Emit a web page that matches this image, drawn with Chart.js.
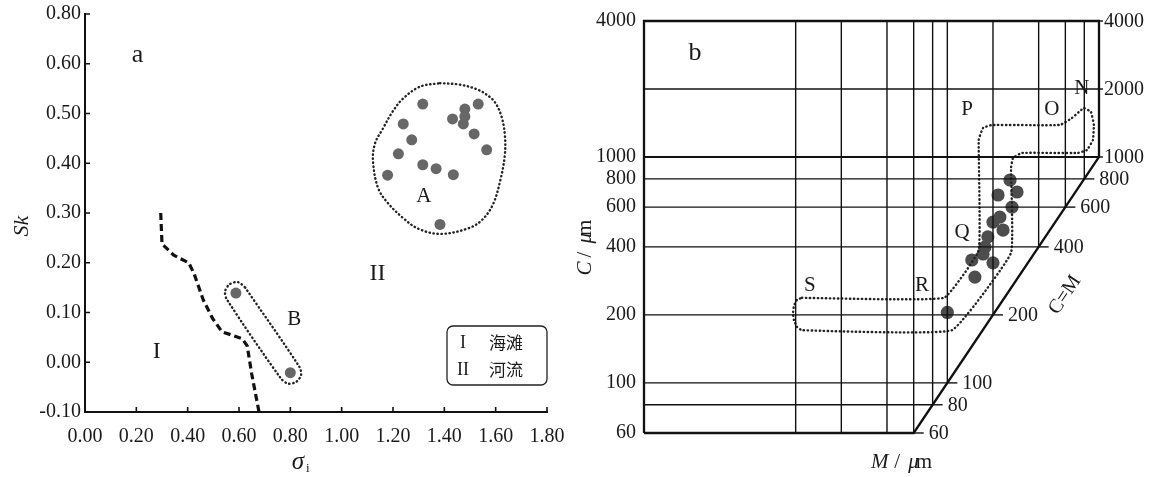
<!DOCTYPE html>
<html><head><meta charset="utf-8">
<script src="https://cdn.jsdelivr.net/npm/chart.js"></script>
<style>
html,body{margin:0;padding:0;background:#fff;}
#wrap{position:relative;width:1150px;height:477px;overflow:hidden;background:#fff;}
canvas{position:absolute;top:0;}
#ca{left:0;} #cb{left:575px;}
</style></head><body>
<div id="wrap"><canvas id="ca" width="575" height="477"></canvas><canvas id="cb" width="575" height="477"></canvas></div>
<script>
// ================= Panel a: sigma_i vs Sk =================
const aXTicks = [0, 0.2, 0.4, 0.6, 0.8, 1.0, 1.2, 1.4, 1.6, 1.8];
const aXTickLabels = ['0.00','0.20','0.40','0.60','0.80','1.00','1.20','1.40','1.60','1.80'];
const aYTicks = [-0.1, 0, 0.1, 0.2, 0.3, 0.4, 0.5, 0.6, 0.7];
const aYTickLabels = ['-0.10','0.00','0.10','0.20','0.30','0.40','0.50','0.60','0.80'];

const groupA_sigma = [1.316,1.532,1.480,1.432,1.480,1.474,1.240,1.516,1.273,1.565,1.221,1.316,1.368,1.435,1.179,1.383];
const groupA_sk    = [0.519,0.519,0.509,0.489,0.494,0.479,0.479,0.459,0.447,0.427,0.419,0.397,0.389,0.377,0.376,0.277];
const groupB_sigma = [0.588, 0.800];
const groupB_sk    = [0.139, -0.021];

// dashed boundary between I (beach) and II (river)
const boundarySigma = [0.295,0.300,0.346,0.404,0.425,0.461,0.497,0.534,0.570,0.613,0.632,0.649,0.678];
const boundarySk    = [0.300,0.238,0.215,0.200,0.178,0.125,0.088,0.061,0.055,0.047,0.033,-0.022,-0.100];

// dotted enclosure A
const outlineA_sigma = [1.383,1.460,1.530,1.580,1.604,1.625,1.636,1.636,1.620,1.590,1.545,1.487,1.383,1.300,1.239,1.180,1.142,1.122,1.130,1.161,1.200,1.239,1.305,1.383];
const outlineA_sk    = [0.561,0.558,0.548,0.532,0.517,0.490,0.455,0.418,0.370,0.318,0.285,0.268,0.258,0.268,0.290,0.320,0.350,0.404,0.440,0.470,0.505,0.530,0.554,0.561];
// dotted enclosure B
const outlineB_sigma = [0.623,0.596,0.564,0.546,0.552,0.764,0.792,0.824,0.842,0.835,0.623];
const outlineB_sk    = [0.151,0.161,0.157,0.143,0.127,-0.033,-0.043,-0.039,-0.025,-0.009,0.151];

const aLabelText  = ['a','A','B','I','II'];
const aLabelSigma = [0.205,1.320,0.815,0.280,1.140];
const aLabelSk    = [0.617,0.333,0.085,0.021,0.178];
const legendNumerals = ['I','II'];
const legendNames = ['海滩','河流'];

// ================= Panel b: C-M diagram =================
const bMmin = 1, bMmax = 1000, bCmin = 60, bCmax = 4000;
const bLeftTicks  = [60,100,200,400,600,800,1000,4000];
const bRightTicks = [60,80,100,200,400,600,800,1000,2000,4000];
const bHLines = [80,100,200,400,600,800,1000,2000];
const bVLines = [10,20,40,60,80,100,200,400,600,800];

const samplesM = [259,288,216,267,222,200,233,185,177,172,200,145,152,100];
const samplesC = [791,700,679,600,542,515,475,443,399,372,340,350,294,205];

// dotted enclosure N-O-P-Q-R-S
const outlineNS_M = [11.0,95,161,161,172,197,552,663,795,885,925,912,832,726,310,271,263,263,107,11.0,10.2,9.74,9.6,9.74,10.2,11.0];
const outlineNS_C = [238,238,387,1189,1344,1386,1386,1488,1648,1582,1386,1189,1074,1042,1042,990,894,376,171,171,177,190,202,219,233,238];

const bLabelText = ['b','N','O','P','Q','R','S'];
const bLabelM    = [2.17,771,489,135,125,68,12.4];
const bLabelC    = [2886,2020,1615,1615,461,271,271];
const cmLabel = {text:'C=M', m:596, c:245};

// ================= helpers =================
const SERIF = "'Liberation Serif','Times New Roman',serif";
const CJK = "'Noto Sans CJK SC','Noto Sans',sans-serif";
const INK = '#1a1a1a';
const zip = (xs, ys) => xs.map((x, i) => ({x, y: ys[i]}));
function lineDS(data, extra) {
  return Object.assign({type:'scatter', data, showLine:true, pointRadius:0, borderColor:'#111',
    borderWidth:1.4, fill:false, tension:0, clip:false}, extra || {});
}
const dotted = {borderDash:[0.4,3.6], borderCapStyle:'round', borderWidth:2.4, borderColor:'#222'};
const noPad = s => { s.paddingLeft = 0; s.paddingRight = 0; s.paddingTop = 0; s.paddingBottom = 0; };

function drawRich(ctx, parts, size) {
  let w = 0;
  parts.forEach(p => { ctx.font = (p[1] ? 'italic ' : '') + size + 'px ' + SERIF; w += ctx.measureText(p[0]).width; });
  let x = -w / 2;
  parts.forEach(p => { ctx.font = (p[1] ? 'italic ' : '') + size + 'px ' + SERIF; ctx.fillText(p[0], x, 0); x += ctx.measureText(p[0]).width; });
}

// ================= Chart a =================
const annotA = {
  id: 'annotA',
  afterDraw(chart) {
    const {ctx, chartArea: ca} = chart;
    const xs = chart.scales.x, ys = chart.scales.y;
    ctx.save();
    ctx.strokeStyle = '#111'; ctx.lineWidth = 1.6;
    ctx.beginPath();
    aXTicks.forEach(v => { const p = xs.getPixelForValue(v); ctx.moveTo(p, ca.bottom); ctx.lineTo(p, ca.bottom - 5); });
    aYTicks.forEach(v => { const p = ys.getPixelForValue(v); ctx.moveTo(ca.left, p); ctx.lineTo(ca.left + 5, p); });
    ctx.stroke();

    ctx.fillStyle = INK; ctx.textAlign = 'center'; ctx.textBaseline = 'middle';
    aLabelText.forEach((t, i) => {
      const size = t === 'a' ? 26 : (t.startsWith('I') ? 24 : 21);
      ctx.font = size + 'px ' + SERIF;
      ctx.fillText(t, xs.getPixelForValue(aLabelSigma[i]), ys.getPixelForValue(aLabelSk[i]));
    });

    // legend box (bottom-right of the plot)
    const lw = 100, lh = 59, lx = ca.right - lw, ly = ca.bottom - 86;
    ctx.lineWidth = 1.3; ctx.strokeStyle = '#222';
    ctx.beginPath(); ctx.roundRect(lx, ly, lw, lh, 6); ctx.stroke();
    legendNumerals.forEach((n, i) => {
      const yy = ly + 17 + i * 27;
      ctx.font = '18px ' + SERIF; ctx.textAlign = 'center';
      ctx.fillText(n, lx + 16, yy);
      ctx.font = '17px ' + CJK; ctx.textAlign = 'left';
      ctx.fillText(legendNames[i], lx + 42, yy);
    });

    // axis titles
    ctx.textAlign = 'center';
    ctx.save(); ctx.translate(22, (ca.top + ca.bottom) / 2 + 13); ctx.rotate(-Math.PI / 2);
    ctx.font = 'italic 22px ' + SERIF; ctx.fillText('Sk', 0, 0); ctx.restore();
    const tx = (ca.left + ca.right) / 2 - 16, ty = 462;
    ctx.font = 'italic 25px ' + SERIF; ctx.textAlign = 'right'; ctx.fillText('σ', tx + 4, ty);
    ctx.font = '13px ' + SERIF; ctx.textAlign = 'left'; ctx.fillText('i', tx + 6, ty + 7);
    ctx.restore();
  }
};

new Chart(document.getElementById('ca'), {
  type: 'scatter',
  data: { datasets: [
    lineDS(zip(boundarySigma, boundarySk), {borderDash:[7,4], borderWidth:3.2, borderColor:'#111'}),
    lineDS(zip(outlineA_sigma, outlineA_sk), Object.assign({tension:0.35}, dotted)),
    lineDS(zip(outlineB_sigma, outlineB_sk), Object.assign({tension:0.3}, dotted)),
    {type:'scatter', data: zip(groupA_sigma, groupA_sk), pointRadius:5.5, pointBackgroundColor:'#676767', pointBorderWidth:0, clip:false},
    {type:'scatter', data: zip(groupB_sigma, groupB_sk), pointRadius:5.5, pointBackgroundColor:'#676767', pointBorderWidth:0, clip:false}
  ]},
  options: {
    responsive:false, animation:false, devicePixelRatio:1, events:[],
    layout:{padding:{left:0, right:28, top:14, bottom:0}},
    plugins:{legend:{display:false}, tooltip:{enabled:false}},
    scales:{
      x:{type:'linear', min:0, max:1.8,
        afterBuildTicks: s => { s.ticks = aXTicks.map(v => ({value:v})); },
        afterFit: s => { s.height = 65; noPad(s); },
        grid:{display:false, drawTicks:false},
        border:{display:true, color:'#111', width:2},
        ticks:{autoSkip:false, maxRotation:0, padding:13, color:INK, font:{family:SERIF, size:20},
          callback:(v, i) => aXTickLabels[i]}},
      y:{type:'linear', min:-0.1, max:0.7,
        afterBuildTicks: s => { s.ticks = aYTicks.map(v => ({value:v})); },
        afterFit: s => { s.width = 85; noPad(s); },
        grid:{display:false, drawTicks:false},
        border:{display:true, color:'#111', width:2},
        ticks:{autoSkip:false, padding:4, color:INK, font:{family:SERIF, size:20},
          callback:(v, i) => aYTickLabels[i]}}
    }
  },
  plugins:[annotA]
});

// ================= Chart b =================
const annotB = {
  id: 'annotB',
  afterDraw(chart) {
    const {ctx} = chart;
    const xs = chart.scales.x, ys = chart.scales.y;
    ctx.save();
    ctx.fillStyle = INK; ctx.strokeStyle = '#111'; ctx.lineWidth = 1.4;
    ctx.textBaseline = 'middle';
    bRightTicks.forEach(v => {
      const x0 = xs.getPixelForValue(Math.min(v, bMmax));
      const y0 = ys.getPixelForValue(v);
      const big = v >= bMmax;
      ctx.beginPath(); ctx.moveTo(x0, y0); ctx.lineTo(x0 + (big ? 4 : 10), y0); ctx.stroke();
      ctx.font = '20px ' + SERIF; ctx.textAlign = 'left';
      ctx.fillText(String(v), x0 + (big ? 5 : 15), y0 + 1);
    });
    ctx.textAlign = 'center';
    bLabelText.forEach((t, i) => {
      ctx.font = (t === 'b' ? 26 : 21) + 'px ' + SERIF;
      ctx.fillText(t, xs.getPixelForValue(bLabelM[i]), ys.getPixelForValue(bLabelC[i]));
    });
    const ang = Math.atan2(ys.getPixelForValue(bCmin) - ys.getPixelForValue(bMmax), xs.getPixelForValue(bMmax) - xs.getPixelForValue(bCmin));
    ctx.save(); ctx.translate(xs.getPixelForValue(cmLabel.m), ys.getPixelForValue(cmLabel.c)); ctx.rotate(-ang);
    ctx.font = '20px ' + SERIF; ctx.fillText(cmLabel.text, 0, 0); ctx.restore();
    ctx.save(); ctx.translate(10, 240); ctx.rotate(-Math.PI / 2);
    drawRich(ctx, [['C', true], [' / ', false], ['μ', true], ['m', false]], 21); ctx.restore();
    ctx.save(); ctx.translate(335, 462);
    drawRich(ctx, [['M', true], [' / ', false], ['μ', true], ['m', false]], 21); ctx.restore();
    ctx.restore();
  }
};

const bDatasets = [];
bHLines.forEach(c => bDatasets.push(lineDS([{x:bMmin, y:c}, {x:Math.min(c, bMmax), y:c}], {borderWidth: c === 1000 ? 2 : 1.4})));
bVLines.forEach(m => bDatasets.push(lineDS([{x:m, y:bCmax}, {x:m, y:Math.max(m, bCmin)}])));
bDatasets.push(lineDS([{x:bMmin, y:bCmin}, {x:bMmin, y:bCmax}, {x:bMmax, y:bCmax}, {x:bMmax, y:1000}, {x:bCmin, y:bCmin}, {x:bMmin, y:bCmin}], {borderWidth:2.3}));
bDatasets.push(lineDS(zip(outlineNS_M, outlineNS_C), Object.assign({tension:0.1}, dotted)));
bDatasets.push({type:'scatter', data: zip(samplesM, samplesC), pointRadius:6.6, pointBackgroundColor:'#4d4d4d', pointBorderWidth:0, clip:false});

new Chart(document.getElementById('cb'), {
  type: 'scatter',
  data: { datasets: bDatasets },
  options: {
    responsive:false, animation:false, devicePixelRatio:1, events:[],
    layout:{padding:{left:0, right:51, top:21, bottom:44}},
    plugins:{legend:{display:false}, tooltip:{enabled:false}},
    scales:{
      x:{type:'logarithmic', min:bMmin, max:bMmax, display:false},
      y:{type:'logarithmic', min:bCmin, max:bCmax,
        afterBuildTicks: s => { s.ticks = bLeftTicks.map(v => ({value:v})); },
        afterFit: s => { s.width = 69; noPad(s); },
        grid:{display:false, drawTicks:false},
        border:{display:false},
        ticks:{autoSkip:false, padding:8, color:INK, font:{family:SERIF, size:20},
          callback: v => String(v)}}
    }
  },
  plugins:[annotB]
});
</script>
</body></html>
